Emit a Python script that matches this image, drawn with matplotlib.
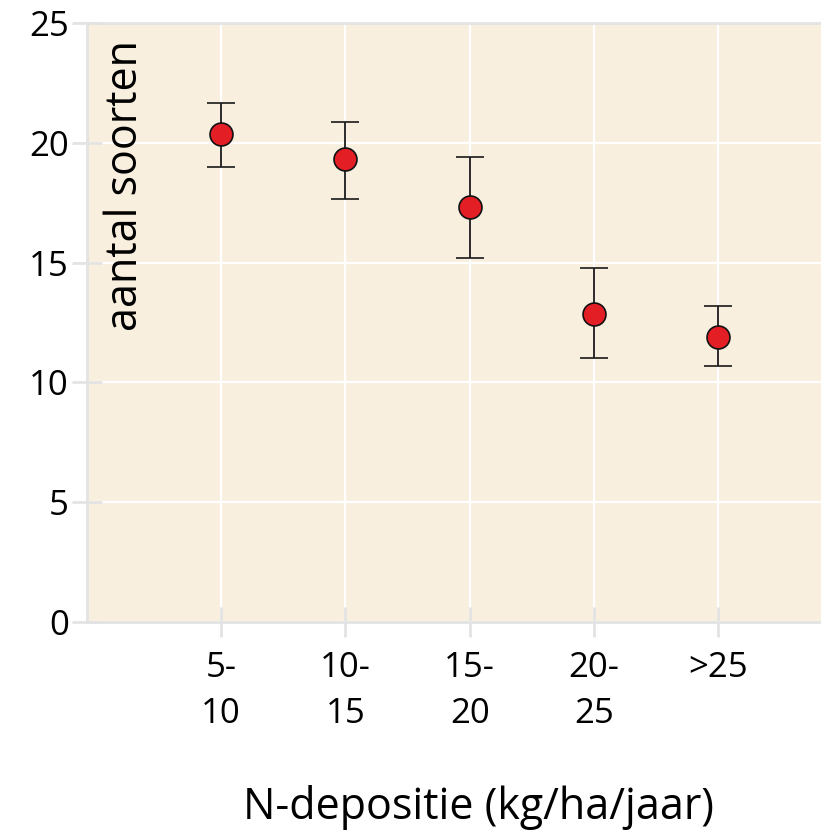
import matplotlib
matplotlib.use("Agg")
import matplotlib.pyplot as plt
import numpy as np

categories = ["5-\n10", "10-\n15", "15-\n20", "20-\n25", ">25"]
means = [20.38, 19.33, 17.31, 12.86, 11.9]
upper = [21.68, 20.88, 19.41, 14.79, 13.19]
lower = [18.99, 17.65, 15.21, 11.0, 10.67]
yticks = [0, 5, 10, 15, 20, 25]

plt.rcParams['font.family'] = ['Open Sans', 'DejaVu Sans']

W, H = 821, 832
fig = plt.figure(figsize=(W / 100, H / 100), dpi=100)
ax = fig.add_axes([87 / W, (832 - 622) / H, (821 - 87) / W + 0.002, (622 - 23) / H])

bg = "#F9EFDF"
gridc = "#FFFFFF"
spinec = "#E3E3E3"
ax.set_facecolor(bg)

x = np.arange(1, len(categories) + 1)
m = np.array(means)
yerr = np.vstack([m - np.array(lower), np.array(upper) - m])
ax.errorbar(x, m, yerr=yerr, fmt='o', color='black', ecolor='#1a1a1a', elinewidth=1.3,
            capsize=10, capthick=1.3, markersize=16.5, markerfacecolor='#E31E24',
            markeredgecolor='#111111', markeredgewidth=1.2, zorder=3)

ax.set_xlim(-0.08, 5.84)
ax.set_ylim(0, 25)
ax.set_xticks(x)
ax.set_xticklabels(categories, fontsize=25, linespacing=1.45)
ax.set_yticks(yticks)
ax.set_yticklabels([str(v) for v in yticks], fontsize=25)

ax.grid(True, color=gridc, linewidth=1.6, zorder=0)
ax.set_axisbelow(True)

for s in ['left', 'top', 'bottom']:
    ax.spines[s].set_color(spinec)
    ax.spines[s].set_linewidth(2)
ax.spines['right'].set_visible(False)

ax.tick_params(axis='both', direction='inout', length=22, width=2, color=spinec)
ax.tick_params(axis='y', pad=2)
ax.tick_params(axis='x', pad=10)

ax.text(0.052, 0.972, "aantal soorten", transform=ax.transAxes, rotation=90,
        ha='center', va='top', fontsize=31)

fig.text(0.583, 0.029, "N-depositie (kg/ha/jaar)", ha='center', va='center', fontsize=31)

fig.savefig("out.png", dpi=100)
